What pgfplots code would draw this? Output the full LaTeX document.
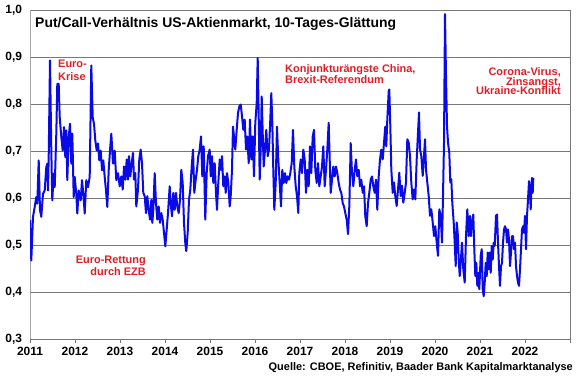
\documentclass[border=0pt]{standalone}
\usepackage{pgfplots}
\pgfplotsset{compat=1.18}
\usepackage{pgfplotstable}
\usepackage{fontspec}
\setmainfont{Liberation Sans}
\definecolor{lineblue}{RGB}{10,10,230}
\definecolor{annred}{RGB}{222,30,36}
\definecolor{gridgray}{RGB}{120,120,120}
\definecolor{leftgray}{RGB}{165,165,165}
% t = horizontal position (pixel units: year = 2011 + (t-30)/45), v = put/call ratio
\pgfplotstableread{
t v
30 0.553
31.3 0.467
33 0.560
34.7 0.581
36.3 0.602
37.3 0.588
38.7 0.680
40 0.574
41.3 0.560
43 0.609
44.7 0.616
46.3 0.666
47.3 0.673
48 0.616
48.7 0.687
50 0.893
51.3 0.701
52.3 0.595
53.7 0.652
54.7 0.623
56.3 0.737
57.3 0.843
58.7 0.843
59.7 0.772
61.3 0.730
62.7 0.701
64 0.751
65.3 0.687
66.3 0.744
67.3 0.638
68.7 0.730
70 0.758
71.3 0.673
72.3 0.737
73.7 0.602
74.7 0.645
76.3 0.609
77.3 0.567
78.7 0.616
80.7 0.595
82 0.638
83.3 0.609
84.7 0.567
86.3 0.638
88 0.623
89.7 0.645
91.3 0.882
92.7 0.772
94 0.758
95.3 0.723
96.7 0.701
98 0.716
99.3 0.680
100.7 0.701
102 0.659
103.3 0.680
104.7 0.645
106 0.616
107.3 0.581
108.7 0.659
110 0.701
111.3 0.737
113 0.673
114.7 0.701
116.3 0.638
118 0.653
119.7 0.625
121.3 0.646
122.7 0.618
124 0.667
125.3 0.639
126.7 0.682
128 0.639
129 0.689
130.3 0.646
131.7 0.674
133 0.696
134 0.639
135.3 0.653
136.3 0.582
138 0.618
139.3 0.682
140.7 0.703
142 0.674
143.3 0.611
144.7 0.604
146 0.568
147.3 0.604
148.7 0.575
150 0.554
151.3 0.596
152.3 0.547
153.3 0.575
154.7 0.653
156 0.589
157.3 0.554
158.7 0.582
160 0.547
161.3 0.568
162.7 0.554
164 0.526
165.3 0.497
166.7 0.533
168 0.568
169.7 0.625
170.7 0.589
172 0.561
173.3 0.611
174.7 0.575
176 0.611
177.3 0.582
178.7 0.568
180 0.596
181.3 0.660
182.7 0.632
184 0.547
185.3 0.504
186.3 0.487
187.7 0.526
189 0.596
190.3 0.618
191.7 0.667
193 0.703
194.3 0.611
195.7 0.639
197 0.660
198.3 0.689
199.7 0.703
201 0.731
202.3 0.646
203.7 0.710
205.3 0.554
206.7 0.653
208 0.689
209.7 0.703
210.7 0.646
212 0.689
213.3 0.632
214.7 0.674
216 0.611
217 0.575
218.3 0.632
219.7 0.682
221 0.660
222 0.689
223.3 0.625
224.7 0.646
225.7 0.611
227 0.653
228.3 0.632
229.7 0.582
230.7 0.604
232 0.660
233 0.752
234 0.731
235.3 0.703
236.7 0.745
238 0.781
239.3 0.795
240.7 0.799
242 0.774
243.3 0.745
244.7 0.767
246 0.703
247.3 0.731
248.7 0.674
250 0.767
251.3 0.682
252.7 0.731
254 0.646
255.3 0.760
256.7 0.802
257.7 0.898
258.7 0.774
259.7 0.639
260.7 0.703
261.7 0.816
262.7 0.738
263.7 0.667
265 0.703
266.3 0.745
267.7 0.689
269 0.703
270.3 0.767
271.3 0.823
272.3 0.760
273.3 0.660
274.3 0.575
275.7 0.632
277 0.752
278.3 0.682
279.7 0.632
281 0.582
282.3 0.660
283.7 0.632
285 0.653
286.3 0.632
287.7 0.646
289 0.639
290.3 0.653
291.7 0.674
293 0.745
294.3 0.667
295.7 0.625
297 0.604
298.3 0.568
299.3 0.653
300.7 0.682
302 0.653
303.3 0.703
304.7 0.682
306 0.611
307.3 0.660
308.7 0.625
310 0.710
311.3 0.653
312.7 0.731
314 0.745
315.3 0.660
316.7 0.632
318 0.674
319.3 0.625
320.7 0.646
322 0.667
323.3 0.710
324.7 0.625
326 0.660
327.3 0.703
328.7 0.760
329.7 0.682
330.7 0.611
332 0.639
333.3 0.667
334.7 0.646
336 0.667
337.3 0.653
338.7 0.632
340 0.618
341.3 0.611
342.7 0.589
344 0.582
345.3 0.568
346.7 0.554
348 0.523
349.3 0.582
350.7 0.717
352 0.653
353.3 0.625
354.7 0.660
356 0.682
357.3 0.646
358.7 0.660
360 0.625
361.3 0.639
362.7 0.611
364 0.625
365.3 0.561
366.7 0.540
368 0.589
369.3 0.611
370.7 0.639
372 0.646
373.3 0.625
374.7 0.611
376 0.639
377.3 0.575
378.7 0.646
380 0.682
381.3 0.703
382.7 0.682
384 0.717
385.3 0.752
386.3 0.710
387.3 0.767
388.7 0.827
389.3 0.831
390.3 0.753
391.3 0.661
392.7 0.611
394 0.633
395.3 0.604
396.7 0.583
398 0.618
399.3 0.654
400.7 0.604
402 0.626
403.3 0.590
404.7 0.611
406 0.633
407.3 0.725
408.7 0.718
410 0.689
411.3 0.633
412.7 0.597
414 0.618
415.3 0.597
416.7 0.682
418 0.739
419 0.782
420 0.704
421.3 0.689
422.7 0.647
424 0.689
425 0.725
426 0.661
427.3 0.633
428.7 0.604
430 0.562
431.3 0.576
432.7 0.548
434 0.519
435.3 0.540
436.7 0.505
438 0.477
439.3 0.576
440.7 0.562
442 0.505
443 0.604
444 0.718
445 0.991
446 0.860
447 0.753
448 0.718
449.3 0.696
450.3 0.633
451.3 0.640
452.3 0.590
453.7 0.548
454.7 0.505
455.7 0.455
456.7 0.548
457.7 0.526
458.7 0.470
459.7 0.434
460.7 0.462
462 0.505
463.3 0.448
464.7 0.420
466 0.519
467.3 0.576
468.7 0.519
470 0.562
471 0.519
472 0.548
473.3 0.565
474.3 0.491
475.3 0.434
476.3 0.462
477.3 0.413
478.3 0.441
479.3 0.406
480.7 0.477
481.7 0.491
482.7 0.406
483.7 0.391
484.7 0.420
485.7 0.462
486.7 0.434
487.7 0.484
488.7 0.448
489.7 0.484
490.7 0.441
491.7 0.498
492.7 0.469
493.7 0.505
494.7 0.498
496 0.562
497 0.565
498 0.505
499 0.455
500 0.413
501 0.455
502 0.462
503 0.505
504 0.533
505 0.540
506 0.533
507 0.505
508 0.533
509 0.512
510 0.455
511 0.484
512 0.519
513 0.519
514 0.491
515 0.505
516 0.455
517 0.434
518 0.420
519 0.413
520 0.448
521 0.491
522 0.533
523 0.540
524 0.526
525 0.562
526 0.491
527 0.562
528 0.597
529 0.636
530 0.611
530.7 0.576
531.3 0.618
532 0.643
532.7 0.611
533.3 0.643
}\pcr
\begin{document}
\begin{tikzpicture}[x=1bp,y=1bp]
\path[use as bounding box] (0,0) rectangle (580,375);
\begin{axis}[
  at={(30bp,36bp)}, anchor=south west,
  scale only axis, width=540bp, height=329bp,
  xmin=2011, xmax=2023, ymin=0.3, ymax=1.0,
  xtick={2011,2012,2013,2014,2015,2016,2017,2018,2019,2020,2021,2022,2023},
  xticklabels={2011,2012,2013,2014,2015,2016,2017,2018,2019,2020,2021,2022,{}},
  ytick={0.3,0.4,0.5,0.6,0.7,0.8,0.9,1.0},
  yticklabels={{0,3},{0,4},{0,5},{0,6},{0,7},{0,8},{0,9},{1,0}},
  tick label style={font=\bfseries\fontsize{12}{14}\selectfont, text=black},
  xtick pos=bottom, ytick pos=left,
  tick align=outside, major tick length=4bp,
  xtick style={draw=gridgray, line width=0.8bp},
  ytick style={draw=none},
  yticklabel style={xshift=-0.5bp},
  xticklabel style={yshift=-0.5bp},
  axis line style={draw=gridgray, line width=0.8bp},
  ymajorgrids, grid style={draw=gridgray, line width=0.8bp},
]
\draw[leftgray, line width=2bp] (axis cs:2011,0.3) -- (axis cs:2011,1.0);
\addplot[lineblue, line width=2bp, line join=round, no markers]
  table[x expr={2011+(\thisrow{t}-30)/45}, y=v] {\pcr};
\end{axis}
\node[anchor=base west, inner sep=0pt, font=\bfseries\fontsize{14}{16}\selectfont] at (35,348) {Put/Call-Verhältnis US-Aktienmarkt, 10-Tages-Glättung};
\begin{scope}[every node/.style={font=\bfseries\fontsize{11}{13}\selectfont, text=annred, inner sep=0pt}]
\node[anchor=base west] at (58,308) {Euro-};
\node[anchor=base west] at (58,294.5) {Krise};
\node[anchor=base west] at (285,303) {Konjunkturängste China,};
\node[anchor=base west] at (285,291.3) {Brexit-Referendum};
\node[anchor=base east] at (561,300) {Corona-Virus,};
\node[anchor=base east] at (561,290) {Zinsangst,};
\node[anchor=base east] at (561,280.3) {Ukraine-Konflikt};
\node[anchor=base east] at (146,111.7) {Euro-Rettung};
\node[anchor=base east] at (146,99.4) {durch EZB};
\end{scope}
\node[anchor=base east, inner sep=0pt, font=\bfseries\fontsize{11}{13}\selectfont] at (573,5) {Quelle: CBOE, Refinitiv, Baader Bank Kapitalmarktanalyse};
\end{tikzpicture}
\end{document}
